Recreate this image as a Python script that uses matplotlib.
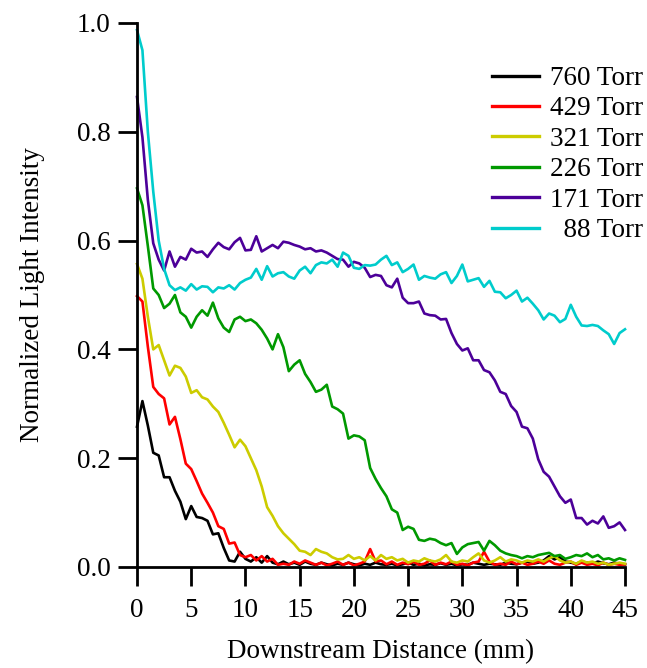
import numpy as np
import matplotlib
matplotlib.use("Agg")
import matplotlib.pyplot as plt

plt.rcParams['font.family'] = ['Liberation Serif', 'DejaVu Serif']
plt.rcParams['mathtext.fontset'] = 'stix'

# Downstream positions (mm), sampled every 0.5 mm
distance = np.arange(0, 45.01, 0.5)

i_760 = [0.258, 0.305, 0.260, 0.210, 0.205, 0.165, 0.165, 0.140, 0.120, 0.088,
         0.112, 0.092, 0.090, 0.085, 0.060, 0.062, 0.035, 0.012, 0.010, 0.028,
         0.015, 0.010, 0.018, 0.008, 0.020, 0.008, 0.005, 0.010, 0.005, 0.008,
         0.004, 0.010, 0.006, 0.004, 0.008, 0.005, 0.003, 0.006, 0.004, 0.008,
         0.005, 0.003, 0.006, 0.004, 0.008, 0.005, 0.004, 0.006, 0.003, 0.005,
         0.008, 0.004, 0.006, 0.003, 0.005, 0.004, 0.007, 0.004, 0.006, 0.003,
         0.005, 0.004, 0.008, 0.006, 0.004, 0.006, 0.005, 0.004, 0.008, 0.006,
         0.005, 0.008, 0.010, 0.006, 0.008, 0.012, 0.020, 0.014, 0.018, 0.010,
         0.008, 0.006, 0.010, 0.008, 0.006, 0.010, 0.007, 0.005, 0.008, 0.006,
         0.005]

i_429 = [0.498, 0.488, 0.405, 0.331, 0.318, 0.310, 0.262, 0.276, 0.235, 0.190,
         0.180, 0.158, 0.135, 0.118, 0.100, 0.075, 0.070, 0.043, 0.045, 0.022,
         0.018, 0.022, 0.012, 0.020, 0.010, 0.015, 0.004, 0.006, 0.004, 0.010,
         0.006, 0.012, 0.008, 0.004, 0.008, 0.003, 0.006, 0.010, 0.004, 0.008,
         0.003, 0.006, 0.010, 0.033, 0.010, 0.012, 0.005, 0.010, 0.004, 0.008,
         0.005, 0.010, 0.004, 0.006, 0.012, 0.004, 0.008, 0.005, 0.010, 0.004,
         0.006, 0.003, 0.008, 0.010, 0.028, 0.010, 0.004, 0.006, 0.004, 0.010,
         0.005, 0.008, 0.004, 0.006, 0.010, 0.006, 0.012, 0.006, 0.004, 0.008,
         0.010, 0.004, 0.008, 0.004, 0.006, 0.003, 0.008, 0.004, 0.006, 0.004,
         0.005]

i_321 = [0.557, 0.530, 0.460, 0.400, 0.408, 0.380, 0.352, 0.370, 0.366, 0.350,
         0.320, 0.325, 0.312, 0.308, 0.295, 0.285, 0.265, 0.243, 0.220, 0.234,
         0.222, 0.200, 0.178, 0.148, 0.110, 0.094, 0.075, 0.062, 0.052, 0.042,
         0.030, 0.028, 0.022, 0.033, 0.028, 0.025, 0.018, 0.014, 0.015, 0.022,
         0.015, 0.018, 0.012, 0.020, 0.012, 0.022, 0.015, 0.018, 0.012, 0.015,
         0.008, 0.012, 0.010, 0.016, 0.012, 0.010, 0.014, 0.022, 0.010, 0.008,
         0.012, 0.010, 0.018, 0.025, 0.012, 0.008, 0.012, 0.018, 0.010, 0.014,
         0.012, 0.008, 0.012, 0.010, 0.014, 0.010, 0.016, 0.020, 0.012, 0.008,
         0.010, 0.006, 0.012, 0.008, 0.010, 0.006, 0.008, 0.004, 0.006, 0.008,
         0.006]

i_226 = [0.696, 0.665, 0.590, 0.512, 0.500, 0.476, 0.484, 0.500, 0.468, 0.460,
         0.440, 0.460, 0.472, 0.462, 0.486, 0.457, 0.440, 0.432, 0.455, 0.460,
         0.452, 0.455, 0.448, 0.436, 0.420, 0.400, 0.428, 0.404, 0.360, 0.372,
         0.380, 0.355, 0.340, 0.322, 0.326, 0.335, 0.295, 0.290, 0.282, 0.236,
         0.242, 0.240, 0.233, 0.182, 0.162, 0.145, 0.130, 0.106, 0.100, 0.068,
         0.074, 0.070, 0.050, 0.048, 0.052, 0.050, 0.044, 0.040, 0.044, 0.024,
         0.036, 0.042, 0.044, 0.046, 0.030, 0.048, 0.040, 0.030, 0.025, 0.022,
         0.020, 0.016, 0.020, 0.018, 0.022, 0.024, 0.026, 0.020, 0.022, 0.015,
         0.018, 0.022, 0.020, 0.025, 0.018, 0.022, 0.014, 0.016, 0.012, 0.016,
         0.013]

i_171 = [0.864, 0.790, 0.675, 0.595, 0.565, 0.545, 0.580, 0.552, 0.570, 0.565,
         0.585, 0.578, 0.580, 0.570, 0.584, 0.596, 0.588, 0.584, 0.597, 0.605,
         0.582, 0.583, 0.608, 0.580, 0.586, 0.592, 0.586, 0.598, 0.596, 0.592,
         0.589, 0.584, 0.586, 0.580, 0.582, 0.578, 0.572, 0.566, 0.565, 0.552,
         0.561, 0.558, 0.550, 0.533, 0.537, 0.535, 0.518, 0.514, 0.530, 0.495,
         0.485, 0.485, 0.488, 0.466, 0.463, 0.462, 0.455, 0.456, 0.430, 0.410,
         0.398, 0.402, 0.380, 0.380, 0.362, 0.358, 0.343, 0.322, 0.318, 0.296,
         0.285, 0.258, 0.255, 0.236, 0.198, 0.175, 0.166, 0.148, 0.130, 0.118,
         0.124, 0.090, 0.090, 0.078, 0.085, 0.080, 0.093, 0.072, 0.075, 0.082,
         0.068]

i_88 = [0.987, 0.950, 0.800, 0.690, 0.600, 0.548, 0.518, 0.509, 0.514, 0.508,
        0.520, 0.510, 0.516, 0.515, 0.505, 0.514, 0.512, 0.518, 0.510, 0.522,
        0.528, 0.532, 0.548, 0.528, 0.553, 0.534, 0.540, 0.542, 0.534, 0.530,
        0.545, 0.552, 0.540, 0.555, 0.560, 0.558, 0.565, 0.552, 0.578, 0.572,
        0.550, 0.548, 0.555, 0.554, 0.556, 0.565, 0.572, 0.555, 0.560, 0.542,
        0.548, 0.556, 0.528, 0.535, 0.532, 0.530, 0.538, 0.542, 0.522, 0.535,
        0.556, 0.525, 0.528, 0.531, 0.515, 0.526, 0.506, 0.505, 0.494, 0.500,
        0.508, 0.488, 0.495, 0.484, 0.472, 0.455, 0.466, 0.462, 0.450, 0.456,
        0.482, 0.460, 0.444, 0.443, 0.445, 0.443, 0.435, 0.428, 0.410, 0.430,
        0.437]

series = [
    ("760 Torr", i_760, "#000000"),
    ("429 Torr", i_429, "#ff0000"),
    ("321 Torr", i_321, "#cccc00"),
    ("226 Torr", i_226, "#009900"),
    ("171 Torr", i_171, "#4c0099"),
    ("  88 Torr", i_88, "#00cccc"),
]

x_ticks = [0, 5, 10, 15, 20, 25, 30, 35, 40, 45]
y_ticks = [0.0, 0.2, 0.4, 0.6, 0.8, 1.0]

fs = 19.5
fig = plt.figure(figsize=(6.47, 6.68), dpi=100)
ax = fig.add_axes([137 / 647, 1 - 567 / 668, (625 - 137) / 647, (567 - 23) / 668])

for label, vals, color in series:
    ax.plot(distance, vals, color=color, lw=1.9, label=label, clip_on=False,
            solid_joinstyle="round")

ax.set_xlim(0, 45)
ax.set_ylim(0, 1.0)
ax.set_xticks(x_ticks)
ax.set_yticks(y_ticks)
ax.set_xticklabels([str(t) for t in x_ticks])
ax.set_yticklabels([f"{t:.1f}" for t in y_ticks])

for side in ("top", "right"):
    ax.spines[side].set_visible(False)
for side in ("left", "bottom"):
    ax.spines[side].set_linewidth(2.0)

ax.tick_params(axis="both", direction="out", length=14, width=2.0, labelsize=fs)
ax.tick_params(axis="x", pad=8)
ax.tick_params(axis="y", pad=5)

ax.set_xlabel("Downstream Distance (mm)", fontsize=fs, labelpad=12)
ax.set_ylabel("Normalized Light Intensity", fontsize=fs, labelpad=23)

leg = ax.legend(loc="upper right", bbox_to_anchor=(643 / 647, 1 - 66 / 668),
                bbox_transform=fig.transFigure, frameon=False, fontsize=fs,
                handlelength=1.75, handletextpad=0.4, labelspacing=0.2,
                borderpad=0, borderaxespad=0)
for h in leg.get_lines():
    h.set_linewidth(2.4)

fig.savefig("out.png", dpi=100)
